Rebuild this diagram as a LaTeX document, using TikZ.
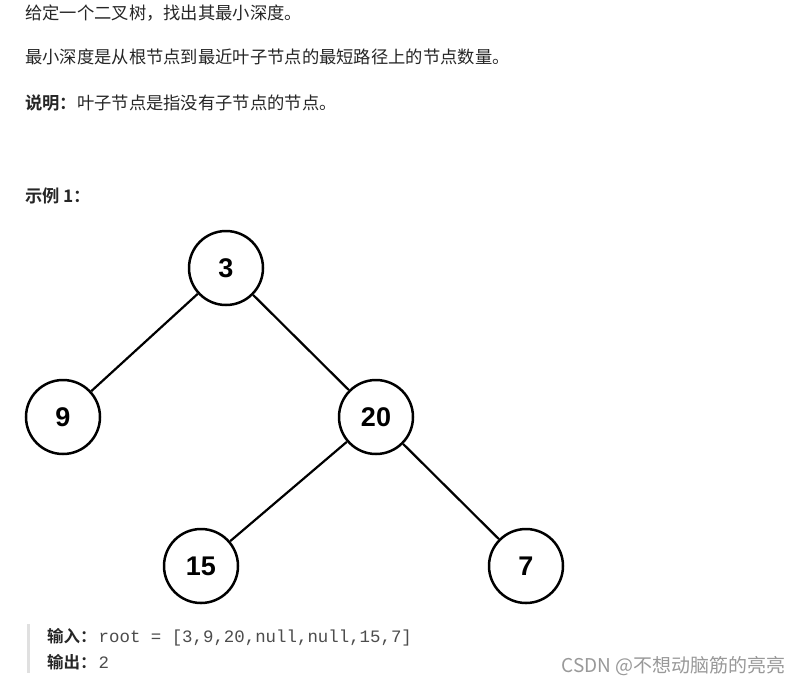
\documentclass[tikz,border=0pt]{standalone}
\usepackage{fontspec}
\setmainfont{Noto Sans CJK SC}[BoldFont={Noto Sans CJK SC Bold}]
\newfontfamily\arialf{Liberation Sans}
\newfontfamily\monof{Liberation Mono}
\begin{document}
\begin{tikzpicture}[x=1pt,y=-1pt,
  tnode/.style={circle,draw=black,line width=2.5pt,minimum size=74pt,inner sep=0pt,font=\arialf\bfseries\fontsize{27}{30}\selectfont},
  edge/.style={line width=2.2pt,draw=black},
  txt/.style={anchor=west,inner sep=0pt,text=black!85,font=\fontsize{17.3}{20}\selectfont}]
\useasboundingbox (0,0) rectangle (800,686);
\fill[white] (0,0) rectangle (800,686);
\node[txt] (l1) at (25,13) {给定一个二叉树，找出其最小深度。};
\node[txt] (l2) at (25,57) {最小深度是从根节点到最近叶子节点的最短路径上的节点数量。};
\node[txt] (l3) at (25,103) {\textbf{说明：}叶子节点是指没有子节点的节点。};
\node[txt] (ex) at (25,196) {\textbf{示例 1：}};
\node[tnode] (n3) at (226,268) {3};
\node[tnode] (n9) at (63,417) {9};
\node[tnode] (n20) at (376,417) {20};
\node[tnode] (n15) at (201,566) {15};
\node[tnode] (n7) at (526,566) {7};
\draw[edge] (n3) -- (n9);
\draw[edge] (n3) -- (n20);
\draw[edge] (n20) -- (n15);
\draw[edge] (n20) -- (n7);
\fill[black!12] (27,624) rectangle (30,673);
\node[txt,font=\fontsize{16.5}{20}\selectfont] (in) at (47,637) {\textbf{输入：}\hspace{2pt}{\monof\fontsize{17.4}{20}\selectfont\color{black!70}root = [3,9,20,null,null,15,7]}};
\node[txt,font=\fontsize{16.5}{20}\selectfont] (out) at (47,662) {\textbf{输出：}\hspace{2pt}{\monof\fontsize{17.4}{20}\selectfont\color{black!70}2}};
\node[txt,anchor=east,text=black!40,font=\fontsize{19}{22}\selectfont] (wm) at (786,666) {CSDN @不想动脑筋的亮亮};
\end{tikzpicture}
\end{document}
